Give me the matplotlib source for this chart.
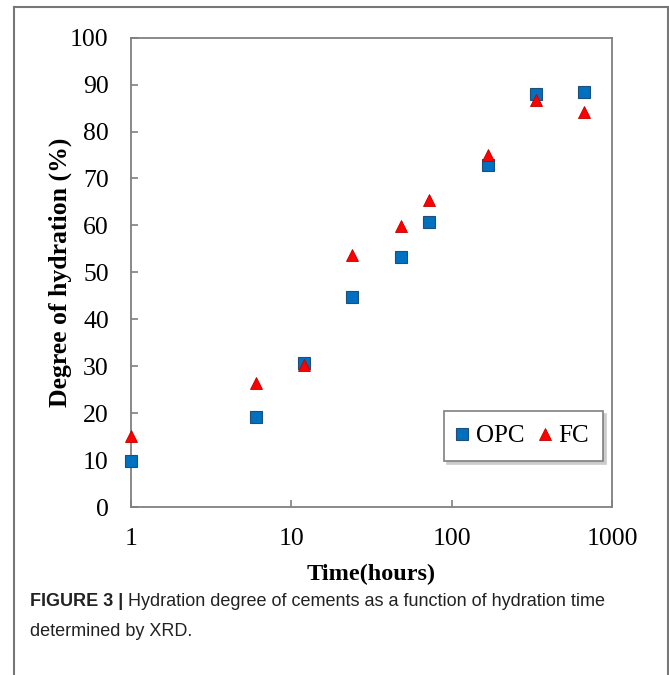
import numpy as np
import matplotlib.pyplot as plt
from matplotlib.lines import Line2D

# hydration time (hours) and degree of hydration (%)
time_h = [1, 6, 12, 24, 48, 72, 168, 336, 672]
opc = [9.9, 19.1, 30.6, 44.8, 53.3, 60.7, 72.9, 87.9, 88.4]
fc = [15.1, 26.5, 30.2, 53.8, 59.9, 65.5, 75.0, 86.7, 84.2]

x_ticks = [1, 10, 100, 1000]
y_ticks = np.arange(0, 101, 10)

W, H = 669, 675
fig = plt.figure(figsize=(W / 100, H / 100), dpi=100)
ax = fig.add_axes([131 / W, 1 - 507 / H, (612 - 131) / W, (507 - 37.7) / H])

ax.plot(time_h, opc, linestyle='', marker='s', markersize=8,
        markerfacecolor='#0070C0', markeredgecolor='#1F4E79',
        markeredgewidth=0.8, label='OPC', zorder=3, clip_on=False)
ax.plot(time_h, fc, linestyle='', marker='^', markersize=9,
        markerfacecolor='#FF0000', markeredgecolor='#C00000',
        markeredgewidth=0.6, label='FC', zorder=4, clip_on=False)

ax.set_xscale('log')
ax.set_xlim(1, 1000)
ax.set_ylim(0, 100)
ax.set_xticks(x_ticks)
ax.set_xticklabels([str(t) for t in x_ticks])
ax.xaxis.set_minor_locator(plt.NullLocator())
ax.set_yticks(y_ticks)

for lab in ax.get_xticklabels() + ax.get_yticklabels():
    lab.set_fontfamily('Liberation Serif')
    lab.set_fontsize(18.5)
ax.tick_params(axis='both', direction='in', length=5, width=1.2,
               color='#808080')
ax.tick_params(axis='x', pad=15)
ax.tick_params(axis='y', pad=16)
for sp in ax.spines.values():
    sp.set_color('#808080')
    sp.set_linewidth(1.3)

ax.set_xlabel('Time(hours)', fontfamily='Liberation Serif', fontsize=17.5,
              fontweight='bold', labelpad=10)
ax.set_ylabel('Degree of hydration (%)', fontfamily='Liberation Serif',
              fontsize=18.5, fontweight='bold', labelpad=-1)

leg = ax.legend(loc='lower right', ncol=2, bbox_to_anchor=(0.981, 0.098),
                borderaxespad=0,
                prop=dict(family='Liberation Serif', size=18),
                frameon=True, fancybox=False,
                shadow={'color': '#cccccc', 'alpha': 1.0},
                handlelength=0.4, handletextpad=0.35, columnspacing=0.6,
                borderpad=0.55)
leg.get_frame().set_edgecolor('#808080')
leg.get_frame().set_linewidth(1.2)

# outer figure frame
fr = dict(transform=fig.transFigure, color='#777777', linewidth=1.5)
fig.add_artist(Line2D([14 / W, 14 / W], [0, 1 - 6.5 / H], **fr))
fig.add_artist(Line2D([14 / W, 667.5 / W], [1 - 6.5 / H, 1 - 6.5 / H], **fr))
fig.add_artist(Line2D([667.5 / W, 667.5 / W], [0, 1 - 6.5 / H], **fr))

# caption
cap = dict(family='Liberation Sans', size=13, color='#222222')
t1 = fig.text(30 / W, 1 - 602 / H, 'FIGURE 3 | ', fontweight='bold',
              va='center', ha='left', **cap)
fig.canvas.draw()
bb = t1.get_window_extent()
fig.text(bb.x1 / W, 1 - 602 / H,
         'Hydration degree of cements as a function of hydration time',
         va='center', ha='left', **cap)
fig.text(30 / W, 1 - 632 / H, 'determined by XRD.', va='center', ha='left',
         **cap)

fig.savefig('out.png', dpi=100)
